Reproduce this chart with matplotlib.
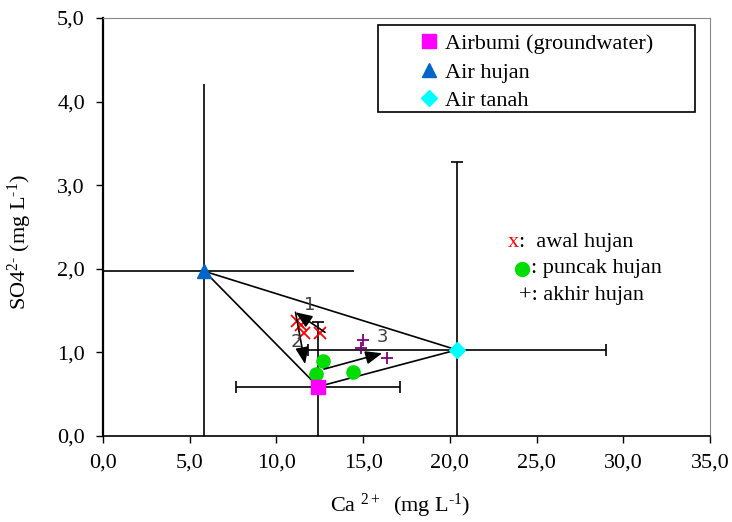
import matplotlib
matplotlib.use('Agg')
import matplotlib.pyplot as plt
from matplotlib.patches import Rectangle

plt.rcParams['font.family'] = ['Liberation Serif', 'DejaVu Serif']
plt.rcParams['mathtext.fontset'] = 'custom'
plt.rcParams['mathtext.rm'] = 'Liberation Serif'
plt.rcParams['mathtext.it'] = 'Liberation Serif:italic'

# end members: x = Ca, y = SO4, with std errors
ends = ['Airbumi (groundwater)', 'Air hujan', 'Air tanah']
ends_x = [12.4, 5.85, 20.4]
ends_y = [0.59, 1.97, 1.03]
ends_xerr = [4.75, 8.6, 8.6]
ends_yerr = [0.77, 2.24, 2.25]
ends_color = ['#ff00ff', '#0066cc', '#00ffff']
ends_marker = ['s', '^', 'D']
ends_cap = [4, 0, 4]

# rain samples
awal_x = [11.2, 11.4, 11.6, 12.5]
awal_y = [1.38, 1.33, 1.23, 1.23]
puncak_x = [12.7, 12.3, 14.4]
puncak_y = [0.90, 0.74, 0.77]
akhir_x = [15.0, 14.9, 16.4]
akhir_y = [1.15, 1.05, 0.93]

# arrows (start -> end) and their labels
arrow_start = [(12.8, 1.24), (11.1, 1.48), (12.75, 0.80)]
arrow_end = [(11.1, 1.48), (11.65, 0.86), (16.1, 0.99)]
arrow_lbl = ['1', '2', '3']
arrow_lbl_pos = [(11.9, 1.57), (11.15, 1.12), (16.1, 1.18)]

fig = plt.figure(figsize=(7.32, 5.22), dpi=100)
ax = fig.add_axes([0.1407, 0.1648, 0.8293, 0.8007])

for i in range(3):
    ax.errorbar(ends_x[i], ends_y[i], xerr=ends_xerr[i], yerr=ends_yerr[i],
                fmt='none', ecolor='black', elinewidth=1.2,
                capsize=ends_cap[i], capthick=1.2, zorder=2)

# mixing triangle
tri_x = ends_x + [ends_x[0]]
tri_y = ends_y + [ends_y[0]]
ax.plot(tri_x, tri_y, color='black', lw=1.2, zorder=3)

handles = []
for i in range(3):
    h, = ax.plot(ends_x[i], ends_y[i], ls='none', marker=ends_marker[i],
                 ms=10 if ends_marker[i] != 'D' else 8,
                 color=ends_color[i], mec=ends_color[i], zorder=5,
                 label=ends[i])
    handles.append(h)

ax.plot(awal_x, awal_y, ls='none', marker='x', ms=8, mew=1.3,
        color='red', zorder=4)
ax.plot(puncak_x, puncak_y, ls='none', marker='o', ms=9.5,
        color='#00dd00', mec='#00dd00', zorder=4)
ax.plot(akhir_x, akhir_y, ls='none', marker='+', ms=9, mew=1.3,
        color='#800080', zorder=4)

for s, e, t, p in zip(arrow_start, arrow_end, arrow_lbl, arrow_lbl_pos):
    ax.annotate('', xy=e, xytext=s,
                arrowprops=dict(arrowstyle='-|>,head_length=1.0,head_width=0.4',
                                color='black', lw=1.2, shrinkA=0, shrinkB=0),
                zorder=6)
    ax.text(p[0], p[1], t, fontsize=13, color='#404040',
            family='DejaVu Sans', ha='center', va='center', zorder=6)

ax.set_xlim(0, 35)
ax.set_ylim(0, 5)
xt = [0, 5, 10, 15, 20, 25, 30, 35]
yt = [0, 1, 2, 3, 4, 5]
ax.set_xticks(xt)
ax.set_xticklabels([f'{v:.1f}'.replace('.', ',') for v in xt])
ax.set_yticks(yt)
ax.set_yticklabels([f'{v:.1f}'.replace('.', ',') for v in yt])
ax.tick_params(direction='out', length=5, width=1, labelsize=16, pad=8)

ax.spines['left'].set_linewidth(1.6)
ax.spines['bottom'].set_linewidth(1.2)
ax.spines['top'].set_color('#888888')
ax.spines['right'].set_color('#888888')

ax.set_xlabel(r'Ca $^{2+}$  (mg L$^{\text{-}1}$)', fontsize=16)
ax.set_ylabel(r'SO4$^{2\text{-}}$ (mg L$^{\text{-}1}$)', fontsize=16)
ax.xaxis.set_label_coords(0.49, -0.133)
ax.yaxis.set_label_coords(-0.113, 0.464)

# legend with its own box
ax.add_patch(Rectangle((0.453, 0.775), 0.522, 0.208, transform=ax.transAxes,
                       fill=False, ec='black', lw=1.2, zorder=7, clip_on=False))
ax.legend(handles=handles, loc='upper left', bbox_to_anchor=(0.49, 0.995),
          frameon=False, fontsize=16, handletextpad=0.0, handlelength=1.4,
          labelspacing=0.36, borderaxespad=0.2)

# sample key as text
ax.text(0.667, 0.464, 'x', color='red', fontsize=16, transform=ax.transAxes,
        va='center')
ax.text(0.686, 0.464, ':  awal hujan', fontsize=16, transform=ax.transAxes,
        va='center')
ax.plot([0.691], [0.400], marker='o', ms=10, color='#00dd00',
        transform=ax.transAxes, clip_on=False)
ax.text(0.705, 0.400, ': puncak hujan', fontsize=16, transform=ax.transAxes,
        va='center')
ax.text(0.686, 0.335, '+: akhir hujan', fontsize=16, transform=ax.transAxes,
        va='center')

fig.savefig('out.png', dpi=100)
